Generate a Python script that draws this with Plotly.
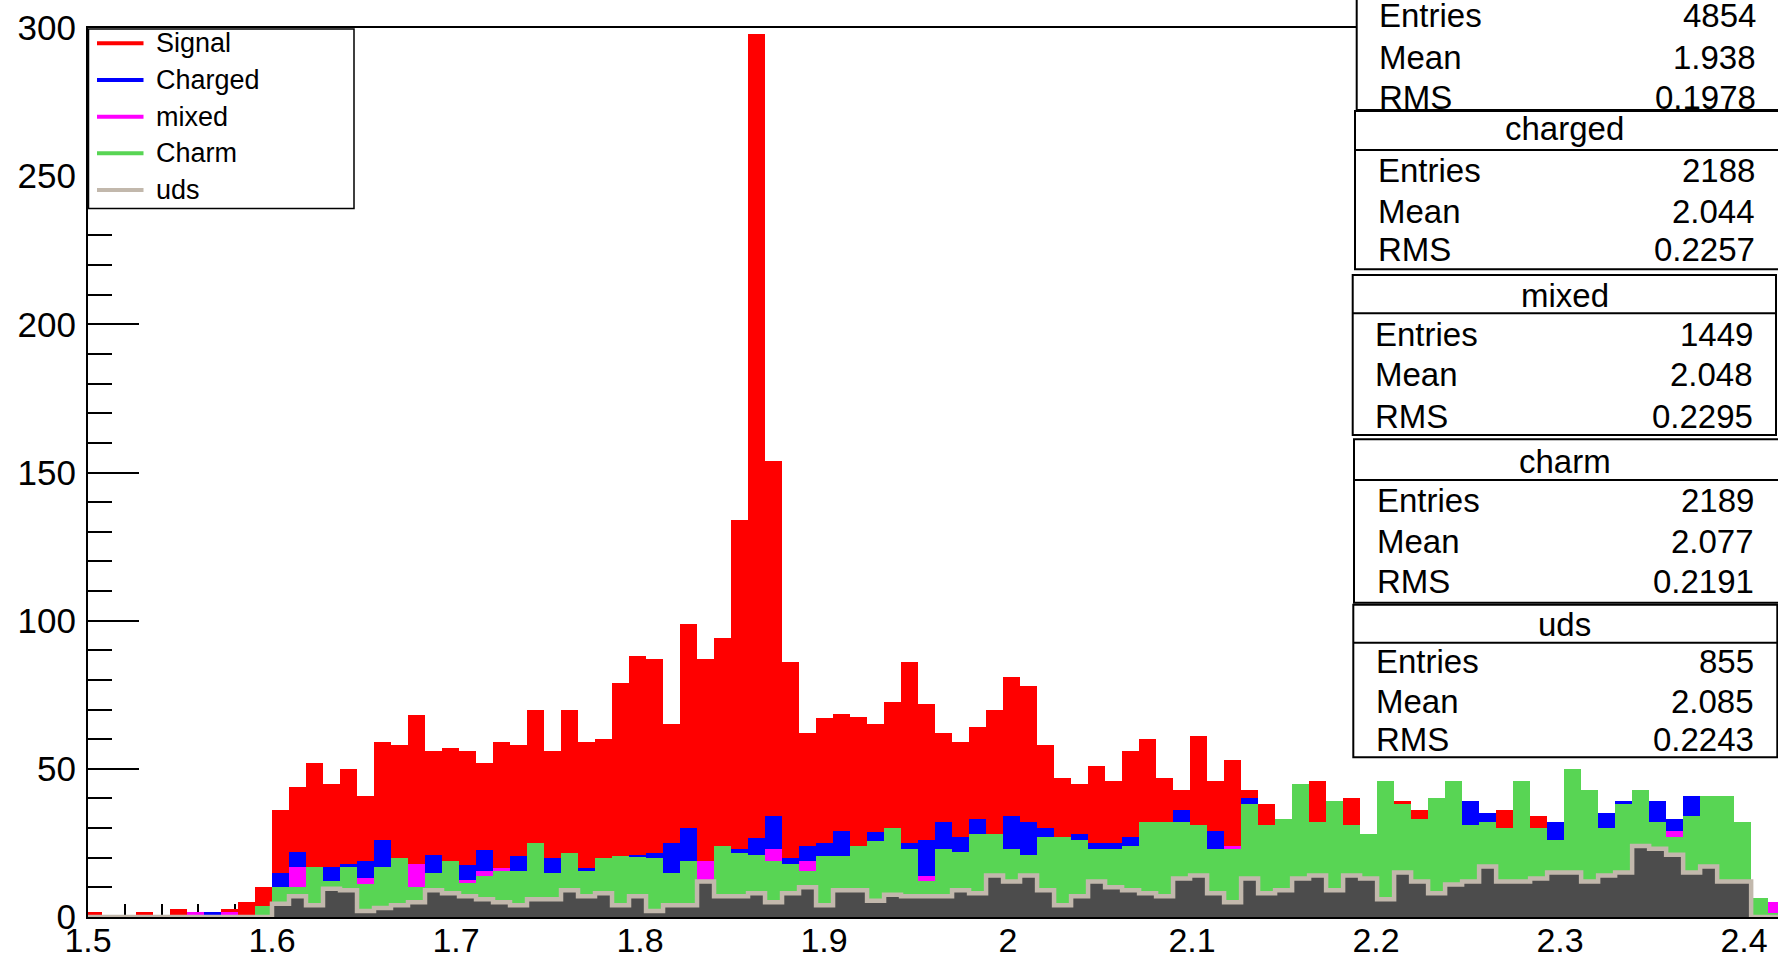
import numpy as np
import plotly.graph_objects as go

# ---------------- data (per-bin contents, bins of width BIN_W, bin 11 starts at 1.6) ----------------
BIN_W = 0.00924
N_BEFORE = 11  # bins lying below 1.6

uds = [0, 0, 0, 0, 0, 0, 0, 0, 0, 0, 0,
       4.5, 7, 4, 9.5, 9, 2, 3, 4, 5, 9,
       8, 7, 6, 5, 4, 6, 6, 9, 7, 8,
       4, 7, 2, 4, 4, 12, 7, 7, 8, 5,
       8, 10, 4, 9, 9, 5.5, 7.5, 7, 7, 7,
       9, 8, 14, 12, 14, 9, 4, 7, 12, 10,
       9, 8, 7, 13, 14, 8, 5, 13, 8, 9,
       13, 14, 9, 14, 13, 6, 15, 12, 8, 11,
       12, 17, 12, 12, 13, 15, 15, 12, 14, 15,
       24, 23, 21, 15, 17, 12, 12, 0, 0]

charm = [0, 0, 0, 0, 0, 0, 0, 0, 0, 0, 3.6,
         5.5, 3, 13, 2.5, 8, 9, 14, 16, 5, 6,
         11, 4.5, 8, 10.5, 11.5, 19, 9, 12.6, 8.5, 12,
         16.5, 13.3, 18, 11, 15, 0, 17, 14.6, 13, 14,
         10, 5.5, 16.5, 11.5, 15, 20.1, 22.5, 16, 5, 16,
         13, 20, 14, 11, 7, 18, 23, 19, 11, 13,
         15, 24, 25, 19, 17, 15, 18, 25, 23, 24,
         32, 18, 30, 17, 15, 40, 23, 21, 32, 35,
         19, 15, 18, 34, 17, 11, 35, 31, 16, 23,
         19, 9, 6, 19, 24, 29, 20, 6.5, 1.5]

mixed = [0, 0, 0, 0, 0, 0, 1.6, 0, 1.6, 0, 0,
         0, 7, 0, 0, 0, 2, 0, 0, 8, 0,
         0, 1, 1.5, 1, 0, 0, 0, 0, 0, 0,
         0, 0, 0, 0, 0, 7, 0, 0, 0, 4,
         0, 3.5, 0, 0, 0, 0, 0, 0, 2, 0,
         0, 0, 0, 0, 0, 0, 0, 0, 0, 0,
         0, 0, 0, 0, 0, 0, 1, 0, 0, 0,
         0, 0, 0, 0, 0, 0, 0, 0, 0, 0,
         0, 0, 0, 0, 0, 0, 0, 0, 0, 0,
         0, 0, 2, 0, 0, 0, 0, 0, 3.5]

charged = [0, 0, 0, 0, 0, 0, 0, 1.6, 0, 0, 0,
           5, 5, 0, 5, 1, 6, 9, 0, 0, 6,
           0, 5, 7, 0, 5, 0, 5, 0, 1, 0,
           0, 0.7, 1.6, 10, 11, 0, 0, 1.2, 5.7, 11,
           2, 5, 4.5, 8.5, 0, 3, 0, 2, 12, 9,
           5, 5, 0, 11, 11, 3, 0, 2, 2, 2,
           3, 0, 0, 4, 0, 6, 0, 2, 0, 0,
           0, 0, 0, 0, 0, 0, 0, 0, 0, 0,
           8, 3, 0, 0, 0, 6, 0, 0, 5, 1,
           0, 7, 4, 7, 0, 0, 0, 0, 0]

signal = [1.6, 0, 0, 1.6, 0, 2.7, 0, 0, 1.1, 5, 6.6,
          21, 22, 35, 28, 32, 22, 33, 38, 50, 35,
          38, 38.5, 29.5, 42.5, 37.5, 45, 36, 48.4, 42.5, 40,
          58.5, 67, 65.4, 40, 69, 68, 70, 111.2, 271.3, 120,
          66, 38, 42, 39.6, 43.5, 36.4, 42.5, 61, 46, 30,
          32, 31, 42, 47, 46, 28, 20, 17, 26, 21,
          29, 28, 15, 7, 30, 17, 29, 3, 7, 0,
          0, 14, 0, 9, 0, 0, 1, 3, 0, 0,
          0, 0, 6, 0, 4, 0, 0, 0, 0, 0,
          0, 0, 0, 0, 0, 0, 0, 0, 0]

x_tick_vals = [1.5, 1.6, 1.7, 1.8, 1.9, 2.0, 2.1, 2.2, 2.3, 2.4]
x_tick_text = ["1.5", "1.6", "1.7", "1.8", "1.9", "2", "2.1", "2.2", "2.3", "2.4"]
y_tick_vals = [0, 50, 100, 150, 200, 250, 300]
y_tick_text = ["0", "50", "100", "150", "200", "250", "300"]

legend_names = ["Signal", "Charged", "mixed", "Charm", "uds"]
legend_colors = ["#ff0000", "#0000ff", "#ff00ff", "#58d554", "#c2b8ac"]

stat_titles = ["Signal", "charged", "mixed", "charm", "uds"]
stat_entries = ["4854", "2188", "1449", "2189", "855"]
stat_means = ["1.938", "2.044", "2.048", "2.077", "2.085"]
stat_rms = ["0.1978", "0.2257", "0.2295", "0.2191", "0.2243"]

# ---------------- styling ----------------
FONT = "Liberation Sans, Arial, Helvetica, sans-serif"
C_SIGNAL, C_CHARGED, C_MIXED, C_CHARM = "#ff0000", "#0000ff", "#ff00ff", "#58d554"
C_UDS_FILL, C_UDS_LINE = "#4c4c4c", "#c2b8ac"

W, H = 1778, 957
PL, PR, PT, PB = 88, 1778, 28, 917


def px(x):
    return (x - PL) / (PR - PL)


def py(y):
    return (PB - y) / (PB - PT)


n = len(signal)
first_edge = 1.6 - N_BEFORE * BIN_W
edges = first_edge + np.arange(n + 1) * BIN_W
centers = edges[:-1] + BIN_W / 2

fig = go.Figure()
for vals, col, name in [(uds, C_UDS_FILL, "uds"), (charm, C_CHARM, "Charm"),
                        (mixed, C_MIXED, "mixed"), (charged, C_CHARGED, "Charged"),
                        (signal, C_SIGNAL, "Signal")]:
    fig.add_trace(go.Bar(x=centers, y=vals, width=BIN_W, name=name,
                         marker=dict(color=col, line=dict(width=0)),
                         showlegend=False, hoverinfo="skip"))

# uds outline as histogram step line
fig.add_trace(go.Scatter(x=list(edges), y=list(uds) + [uds[-1]], mode="lines",
                         line=dict(color=C_UDS_LINE, width=4.5, shape="hv"),
                         showlegend=False, hoverinfo="skip"))

fig.update_layout(
    width=W, height=H,
    margin=dict(l=PL, r=W - PR, t=PT, b=H - PB, pad=0, autoexpand=False),
    barmode="stack", bargap=0,
    plot_bgcolor="white", paper_bgcolor="white",
    font=dict(family=FONT, color="black"),
    showlegend=False,
)

fig.update_xaxes(range=[1.5, 1.5 + (PR - PL) / 1840.0], showgrid=False, zeroline=False,
                 automargin=False,
                 showline=True, linecolor="black", linewidth=2, mirror=True,
                 tickmode="array", tickvals=x_tick_vals, ticktext=x_tick_text,
                 ticks="inside", ticklen=27, tickwidth=2, tickcolor="black",
                 minor=dict(ticks="inside", dtick=0.02, tick0=1.5, ticklen=13,
                            tickwidth=2, tickcolor="black", showgrid=False),
                 tickfont=dict(family=FONT, size=34, color="black"),
                 ticklabelstandoff=-8,
                 layer="below traces")
fig.update_yaxes(range=[0, 300], showgrid=False, zeroline=False,
                 automargin=False,
                 showline=True, linecolor="black", linewidth=2, mirror=False,
                 tickmode="array", tickvals=y_tick_vals, ticktext=y_tick_text,
                 ticks="inside", ticklen=51, tickwidth=2, tickcolor="black",
                 minor=dict(ticks="inside", dtick=10, tick0=0, ticklen=24,
                            tickwidth=2, tickcolor="black", showgrid=False),
                 tickfont=dict(family=FONT, size=35, color="black"),
                 ticklabelstandoff=3,
                 layer="below traces")

shapes = []
annotations = []

# ---------------- legend box ----------------
shapes.append(dict(type="rect", xref="paper", yref="paper", layer="above",
                   x0=px(88.5), x1=px(354), y0=py(29), y1=py(208.5),
                   fillcolor="white", line=dict(color="black", width=1.5)))
leg_y = [43.3, 80, 116.7, 153.3, 190]
for name, col, yy in zip(legend_names, legend_colors, leg_y):
    shapes.append(dict(type="line", xref="paper", yref="paper", layer="above",
                       x0=px(97), x1=px(143.5), y0=py(yy), y1=py(yy),
                       line=dict(color=col, width=4)))
    annotations.append(dict(text=name, xref="paper", yref="paper", x=px(154), y=py(yy),
                            xanchor="left", yanchor="middle", showarrow=False,
                            font=dict(family=FONT, size=27, color="black")))

# ---------------- statistics boxes ----------------
# (x0, top, separator, bottom, x1, title_y, row_ys, value_right)
boxes = [
    (1356.7, -40, -5, 110, 1800, -22, [15.8, 57.3, 97.5], 1758),
    (1355.0, 111, 150, 269.3, 1800, 128.5, [171, 211, 249.5], 1756.5),
    (1352.7, 275, 313.3, 435, 1776, 295, [334, 374, 416], 1755),
    (1354.0, 439.3, 480, 602.7, 1800, 461, [500, 541.7, 581.7], 1756),
    (1353.3, 604.7, 642.7, 757.3, 1777.3, 624, [661.7, 701.7, 739], 1756),
]
for i, (x0, top, sep, bot, x1, ty, rows, vr) in enumerate(boxes):
    shapes.append(dict(type="rect", xref="paper", yref="paper", layer="above",
                       x0=px(x0), x1=px(x1), y0=py(bot), y1=py(top),
                       fillcolor="white", line=dict(color="black", width=2)))
    shapes.append(dict(type="line", xref="paper", yref="paper", layer="above",
                       x0=px(x0), x1=px(x1), y0=py(sep), y1=py(sep),
                       line=dict(color="black", width=2)))
    if ty > 0:
        annotations.append(dict(text=stat_titles[i], xref="paper", yref="paper",
                                x=px(1564.5), y=py(ty), xanchor="center", yanchor="middle",
                                showarrow=False, font=dict(family=FONT, size=33, color="black")))
    for label, val, yy in zip(["Entries", "Mean", "RMS"],
                              [stat_entries[i], stat_means[i], stat_rms[i]], rows):
        annotations.append(dict(text=label, xref="paper", yref="paper", x=px(x0 + 20.5), y=py(yy),
                                xanchor="left", yanchor="middle", showarrow=False,
                                font=dict(family=FONT, size=33, color="black")))
        annotations.append(dict(text=val, xref="paper", yref="paper", x=px(vr), y=py(yy),
                                xanchor="right", yanchor="middle", showarrow=False,
                                font=dict(family=FONT, size=33, color="black")))

fig.update_layout(shapes=shapes, annotations=annotations)

fig.write_html("out.html", config={"displayModeBar": False},
               post_script="document.body.style.margin='0px';document.body.style.overflow='hidden';")
